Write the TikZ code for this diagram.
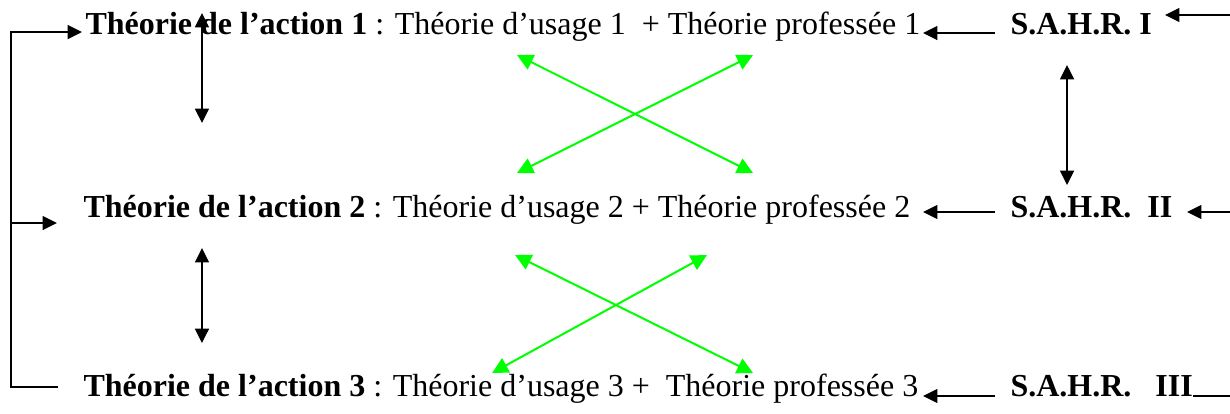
\documentclass[tikz,border=0pt]{standalone}
\usepackage{fontspec}
\setmainfont{Liberation Serif}
\usetikzlibrary{calc,arrows.meta}
\definecolor{vertVif}{RGB}{0,255,0}

\begin{document}
\begin{tikzpicture}[
  texte/.style={anchor=base west,inner sep=0pt,font=\fontsize{12}{14}\selectfont},
  trait/.style={line width=0.75pt},
  fleche/.style={-{Triangle[length=5.4pt,width=5.2pt]},line width=0.75pt},
  doubleN/.style={{Triangle[length=5.4pt,width=5.2pt]}-{Triangle[length=5.4pt,width=5.2pt]},line width=0.75pt},
  doubleV/.style={{Triangle[length=6pt,width=6pt]}-{Triangle[length=6pt,width=6pt]},vertVif,line width=0.75pt}]
\useasboundingbox (0,0) rectangle (16.211,-5.456);
% les trois theories
\node[texte] (theo1) at (1.120,-0.461) {\textbf{Théorie de l’action 1} : Théorie d’usage 1\ \ + Théorie professée 1};
\node[texte] (theo2) at (1.094,-2.873) {\textbf{Théorie de l’action 2} : Théorie d’usage 2 + Théorie professée 2};
\node[texte] (theo3) at (1.094,-5.219) {\textbf{Théorie de l’action 3} : Théorie d’usage 3 +\ \ Théorie professée 3};
% les S.A.H.R.
\node[texte,font=\bfseries\fontsize{12}{14}\selectfont] (sahr1) at (13.312,-0.461) {S.A.H.R. I};
\node[texte,font=\bfseries\fontsize{12}{14}\selectfont] (sahr2) at (13.312,-2.873) {S.A.H.R.\ \ II};
\node[texte,font=\bfseries\fontsize{12}{14}\selectfont] (sahr3) at (13.312,-5.219) {S.A.H.R.\ \ \ III};
% boucle de gauche
\coordinate (coinhaut) at (0.145,-0.422);
\coordinate (coinmil) at (0.145,-2.939);
\coordinate (coinbas) at (0.145,-5.101);
\draw[fleche] ($(theo3.base west)+(-0.330,0.118)$) -- (coinbas) -- (coinhaut) -- ($(theo1.base west)+(-0.039,0.039)$);
\draw[fleche] (coinmil) -- ($(theo2.base west)+(-0.343,-0.066)$);
% S.A.H.R. vers theories
\draw[fleche] ($(sahr1.base west)+(-0.198,0.026)$) -- ($(sahr1.base west)+(-1.147,0.026)$);
\draw[fleche] ($(sahr2.base west)+(-0.198,0.079)$) -- ($(sahr2.base west)+(-1.147,0.079)$);
\draw[fleche] ($(sahr3.base west)+(-0.198,0)$) -- ($(sahr3.base west)+(-1.147,0)$);
% arrivees par la droite
\coordinate (bord1) at (16.211,-0.198);
\coordinate (bord2) at (16.211,-2.794);
\coordinate (bord3) at (16.211,-5.219);
\draw[fleche] (bord1) -- (15.355,-0.198);
\draw[fleche] (bord2) -- (15.645,-2.794);
\draw[trait] (bord3) -- (sahr3.base east);
% fleches verticales
\coordinate (g1h) at (2.662,-0.171);
\coordinate (g1b) at (2.662,-1.621);
\coordinate (g2h) at (2.662,-3.269);
\coordinate (g2b) at (2.662,-4.521);
\coordinate (dh) at (14.063,-0.857);
\coordinate (db) at (14.063,-2.438);
\draw[doubleN] (g1h) -- (g1b);
\draw[doubleN] (g2h) -- (g2b);
\draw[doubleN] (dh) -- (db);
% croisements verts
\draw[doubleV] (6.814,-0.725) -- (9.925,-2.280);
\draw[doubleV] (9.925,-0.725) -- (6.814,-2.280);
\draw[doubleV] (6.788,-3.361) -- (9.925,-4.916);
\draw[doubleV] (9.318,-3.361) -- (6.485,-4.916);
\end{tikzpicture}
\end{document}
